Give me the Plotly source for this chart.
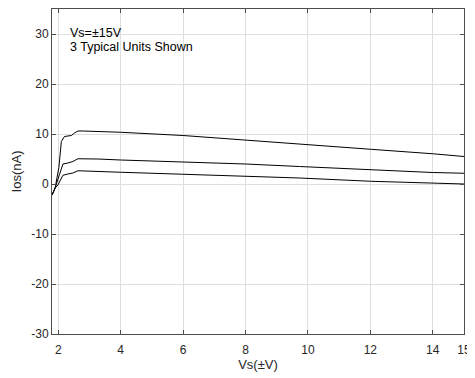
import plotly.graph_objects as go

# Data
x_top = [1.8, 1.9, 2.02, 2.10, 2.20, 2.42, 2.52, 2.63, 2.8, 3.27, 4.0, 6.0, 8.0, 9.73, 12.0, 14.0, 15.0]
ios_top = [-2.2, -0.8, 3.3, 8.5, 9.5, 9.7, 10.2, 10.6, 10.6, 10.5, 10.35, 9.7, 8.75, 7.9, 6.95, 6.05, 5.5]

x_mid = [1.8, 1.9, 2.04, 2.15, 2.31, 2.47, 2.63, 2.8, 3.27, 4.0, 6.0, 8.0, 9.73, 12.0, 14.0, 15.0]
ios_mid = [-2.2, -0.8, 1.9, 4.0, 4.2, 4.5, 5.05, 5.05, 5.0, 4.8, 4.4, 4.0, 3.5, 2.8, 2.3, 2.15]

x_bot = [1.8, 1.9, 1.99, 2.15, 2.31, 2.47, 2.63, 2.8, 3.27, 4.0, 6.0, 8.0, 9.73, 12.0, 14.0, 15.0]
ios_bot = [-2.2, -0.8, -0.2, 1.75, 2.0, 2.2, 2.65, 2.6, 2.5, 2.35, 1.95, 1.55, 1.2, 0.55, 0.15, 0.0]

x_ticks = [2, 4, 6, 8, 10, 12, 14, 15]
y_ticks = [-30, -20, -10, 0, 10, 20, 30]
y_tick_labels = ["-30", "-20", "-10", "0", "10", "20", "30"]
notes = ["Vs=±15V", "3 Typical Units Shown"]

FONT = "Liberation Sans, Arial, sans-serif"
TXT = "#262626"

fig = go.Figure()
for xs, ys in [(x_top, ios_top), (x_mid, ios_mid), (x_bot, ios_bot)]:
    fig.add_trace(go.Scatter(x=xs, y=ys, mode="lines",
                             line=dict(color="black", width=1.0),
                             showlegend=False, hoverinfo="skip"))

axis_common = dict(
    showgrid=True, gridcolor="#dedede", gridwidth=1,
    showline=True, linecolor="#4d4d4d", linewidth=1, mirror="ticks",
    ticks="inside", ticklen=4, tickcolor="#4d4d4d", tickwidth=1,
    zeroline=False, tickfont=dict(family=FONT, size=12, color=TXT),
    ticklabeloverflow="allow",
)

fig.update_xaxes(range=[1.8, 15], tickmode="array", tickvals=x_ticks,
                 ticklabelstandoff=5,
                 title=dict(text="Vs(±V)", font=dict(family=FONT, size=13, color=TXT), standoff=3),
                 **axis_common)
fig.update_yaxes(range=[-30, 35], tickmode="array", tickvals=y_ticks, ticktext=y_tick_labels,
                 title=dict(text="Ios(nA)", font=dict(family=FONT, size=13, color=TXT), standoff=6),
                 **axis_common)

fig.add_annotation(x=0.038, y=0.925, xref="paper", yref="paper", xanchor="left", yanchor="middle",
                   text=notes[0], showarrow=False, font=dict(family=FONT, size=12.5, color="black"))
fig.add_annotation(x=0.038, y=0.884, xref="paper", yref="paper", xanchor="left", yanchor="middle",
                   text=notes[1], showarrow=False, font=dict(family=FONT, size=12.5, color="black"))

fig.update_layout(
    width=467, height=371,
    margin=dict(l=44, r=11, t=1, b=45),
    paper_bgcolor="white", plot_bgcolor="white",
)

fig.write_html("out.html")
